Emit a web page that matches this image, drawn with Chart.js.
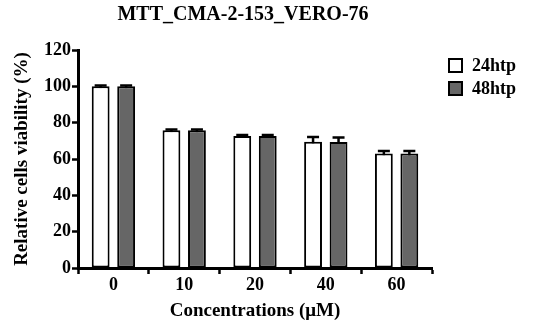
<!DOCTYPE html>
<html>
<head>
<meta charset="utf-8">
<script src="https://cdn.jsdelivr.net/npm/chart.js@4"></script>
<style>
  html, body { margin: 0; padding: 0; background: #fff; }
  #wrap { width: 550px; height: 331px; }
</style>
</head>
<body>
<div id="wrap"><canvas id="chart" width="550" height="331"></canvas></div>
<script>
var concentrations = ['0', '10', '20', '40', '60'];
var viability24 = [100, 75.8, 72.6, 69.5, 63];
var viability48 = [100, 75.8, 72.6, 69.3, 63];
var error24 = [0.5, 0.5, 0.6, 2.6, 1.4];
var error48 = [0.5, 0.5, 0.6, 2.6, 1.4];
var yTicks = [0, 20, 40, 60, 80, 100, 120];

var serif = "'Liberation Serif', 'Times New Roman', serif";

// error bars go under the bars so only the upper half shows
var errorBars = {
    id: 'errorBars',
    beforeDatasetsDraw: function(chart) {
        var ctx = chart.ctx;
        var yScale = chart.scales.y;
        ctx.save();
        ctx.strokeStyle = '#000';
        ctx.lineWidth = 2.5;
        chart.data.datasets.forEach(function(ds, i) {
            var meta = chart.getDatasetMeta(i);
            meta.data.forEach(function(bar, j) {
                var top = yScale.getPixelForValue(ds.data[j] + ds.errors[j]);
                var mid = yScale.getPixelForValue(ds.data[j]);
                ctx.beginPath();
                ctx.moveTo(bar.x, mid + 2);
                ctx.lineTo(bar.x, top);
                ctx.moveTo(bar.x - 6, top);
                ctx.lineTo(bar.x + 6, top);
                ctx.stroke();
            });
        });
        ctx.restore();
    }
};

// legend boxes drawn beside the plot
var sideLegend = {
    id: 'sideLegend',
    afterDraw: function(chart) {
        var ctx = chart.ctx;
        var x = chart.chartArea.right + 16;
        var y = 58;
        ctx.save();
        ctx.font = 'bold 18px ' + serif;
        ctx.textBaseline = 'middle';
        chart.data.datasets.forEach(function(ds, i) {
            var yy = y + i * 23;
            ctx.fillStyle = ds.backgroundColor;
            ctx.fillRect(x, yy, 15, 15);
            ctx.strokeStyle = '#000';
            ctx.lineWidth = 2;
            ctx.strokeRect(x + 1, yy + 1, 13, 13);
            ctx.fillStyle = '#000';
            ctx.fillText(ds.label, x + 24, yy + 8);
        });
        ctx.restore();
    }
};

var chart = new Chart(document.getElementById('chart'), {
    type: 'bar',
    data: {
        labels: concentrations,
        datasets: [{
            label: '24htp',
            data: viability24,
            errors: error24,
            backgroundColor: '#ffffff',
            borderColor: '#000000',
            borderWidth: 2,
            borderSkipped: false
        }, {
            label: '48htp',
            data: viability48,
            errors: error48,
            backgroundColor: '#666666',
            borderColor: '#000000',
            borderWidth: 2,
            borderSkipped: false
        }]
    },
    options: {
        responsive: false,
        animation: false,
        devicePixelRatio: 1,
        categoryPercentage: 0.72,
        barPercentage: 0.7,
        layout: { padding: { left: 0, right: 64, top: 0, bottom: 0 } },
        plugins: {
            legend: { display: false },
            tooltip: { enabled: false },
            title: {
                display: true,
                text: 'MTT_CMA-2-153_VERO-76',
                color: '#000',
                font: { family: serif, size: 20, weight: 'bold' },
                padding: { top: 3, bottom: 23 }
            }
        },
        scales: {
            x: {
                grid: { display: true, drawOnChartArea: false, drawTicks: true, tickLength: 6, tickWidth: 2.5, tickColor: '#000' },
                border: { display: true, color: '#000', width: 3 },
                ticks: { color: '#000', font: { family: serif, size: 18, weight: 'bold' }, padding: 1 },
                title: {
                    display: true,
                    text: 'Concentrations (\u03bcM)',
                    color: '#000',
                    font: { family: serif, size: 19, weight: 'bold' },
                    padding: { top: 0, bottom: 9 }
                },
                afterFit: function(scale) { scale.height = 63; }
            },
            y: {
                min: 0,
                max: 120,
                afterBuildTicks: function(scale) {
                    scale.ticks = yTicks.map(function(v) { return { value: v }; });
                },
                grid: { display: true, drawOnChartArea: false, drawTicks: true, tickLength: 6, tickWidth: 2.5, tickColor: '#000' },
                border: { display: true, color: '#000', width: 3 },
                ticks: { color: '#000', font: { family: serif, size: 18, weight: 'bold' }, padding: 1 },
                title: {
                    display: true,
                    text: 'Relative cells viability (%)',
                    color: '#000',
                    font: { family: serif, size: 19, weight: 'bold' },
                    padding: { top: 11, bottom: 0 }
                },
                afterFit: function(scale) { scale.width = 78; }
            },
            y2: {
                position: 'right',
                display: true,
                grid: { display: false },
                border: { display: false },
                ticks: { display: false },
                afterFit: function(scale) { scale.width = 54; }
            }
        }
    },
    plugins: [errorBars, sideLegend]
});
</script>
</body>
</html>
